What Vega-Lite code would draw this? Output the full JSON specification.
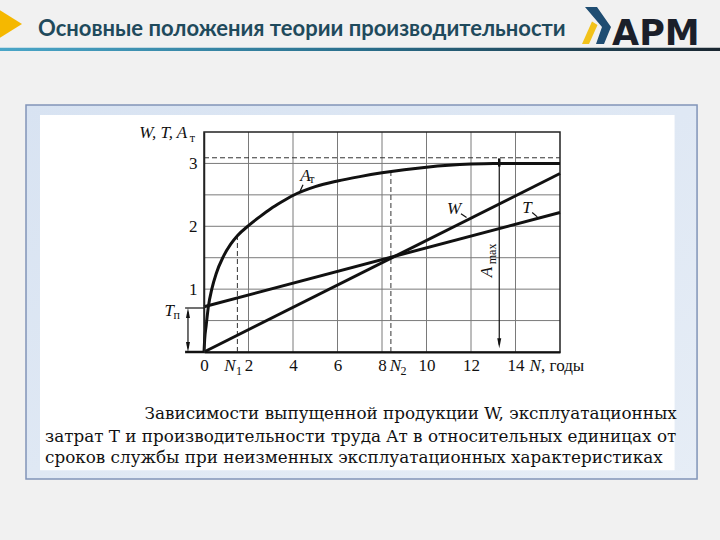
{
  "$schema": "https://vega.github.io/schema/vega-lite/v6.json",
  "width": 356,
  "height": 220,
  "autosize": {"type": "none"},
  "padding": {"left": 204, "top": 132, "right": 160, "bottom": 188},
  "background": "#f1f1f1",
  "config": {"view": {"stroke": null}},
  "datasets": {
    "frame": [
      {"part": "outer", "x": -8.0, "x2": 22.16, "y": -2.02, "y2": 3.93},
      {"part": "inner", "x": -7.37, "x2": 21.15, "y": -1.88, "y2": 3.77},
      {"part": "bar", "x": -9.2, "x2": 23.2, "y": 4.79, "y2": 4.84},
      {"part": "plot", "x": 0, "x2": 16, "y": 0, "y2": 3.5}
    ],
    "grid": [
      {"x": 2, "x2": 2, "y": 0, "y2": 3.5},
      {"x": 4, "x2": 4, "y": 0, "y2": 3.5},
      {"x": 6, "x2": 6, "y": 0, "y2": 3.5},
      {"x": 8, "x2": 8, "y": 0, "y2": 3.5},
      {"x": 10, "x2": 10, "y": 0, "y2": 3.5},
      {"x": 12, "x2": 12, "y": 0, "y2": 3.5},
      {"x": 14, "x2": 14, "y": 0, "y2": 3.5},
      {"x": 0, "x2": 16, "y": 0.5, "y2": 0.5},
      {"x": 0, "x2": 16, "y": 1, "y2": 1},
      {"x": 0, "x2": 16, "y": 1.5, "y2": 1.5},
      {"x": 0, "x2": 16, "y": 2, "y2": 2},
      {"x": 0, "x2": 16, "y": 2.5, "y2": 2.5},
      {"x": 0, "x2": 16, "y": 3, "y2": 3}
    ],
    "dashed": [
      {"x": 1.5, "x2": 1.5, "y": 0, "y2": 1.85},
      {"x": 8.4, "x2": 8.4, "y": 0, "y2": 2.86},
      {"x": 0, "x2": 16, "y": 3.09, "y2": 3.09}
    ],
    "thin": [
      {"x": 13.27, "x2": 13.27, "y": 0.12, "y2": 3.0},
      {"x": -0.72, "x2": -0.72, "y": 0.06, "y2": 0.64},
      {"x": -0.85, "x2": 0, "y": 0.7, "y2": 0.7},
      {"x": 4.45, "x2": 4.27, "y": 2.66, "y2": 2.52},
      {"x": 11.55, "x2": 11.8, "y": 2.2, "y2": 2.14},
      {"x": 14.75, "x2": 14.98, "y": 2.22, "y2": 2.15}
    ],
    "thick": [
      {"x": -0.85, "x2": 0, "y": 0, "y2": 0},
      {"x": 13.27, "x2": 13.27, "y": 2.95, "y2": 3.08}
    ],
    "arrows": [
      {"dir": "down", "x": 13.27, "y": 0.06},
      {"dir": "down", "x": -0.72, "y": 0.0},
      {"dir": "up", "x": -0.72, "y": 0.7}
    ],
    "curves": [
      {"s": "A", "x": 0, "y": 0},
      {"s": "A", "x": 0.03, "y": 0.2},
      {"s": "A", "x": 0.1, "y": 0.43},
      {"s": "A", "x": 0.2, "y": 0.73},
      {"s": "A", "x": 0.35, "y": 1.0},
      {"s": "A", "x": 0.55, "y": 1.25},
      {"s": "A", "x": 0.85, "y": 1.505},
      {"s": "A", "x": 1.2, "y": 1.715},
      {"s": "A", "x": 1.5, "y": 1.85},
      {"s": "A", "x": 2, "y": 2.01},
      {"s": "A", "x": 2.5, "y": 2.15},
      {"s": "A", "x": 3, "y": 2.28},
      {"s": "A", "x": 3.5, "y": 2.39},
      {"s": "A", "x": 4, "y": 2.49},
      {"s": "A", "x": 5, "y": 2.63},
      {"s": "A", "x": 6, "y": 2.72},
      {"s": "A", "x": 7, "y": 2.79},
      {"s": "A", "x": 8, "y": 2.85},
      {"s": "A", "x": 9, "y": 2.9},
      {"s": "A", "x": 10, "y": 2.94},
      {"s": "A", "x": 11, "y": 2.97},
      {"s": "A", "x": 12, "y": 2.99},
      {"s": "A", "x": 13, "y": 3.0},
      {"s": "A", "x": 14, "y": 3.0},
      {"s": "A", "x": 16, "y": 3.0},
      {"s": "W", "x": 0, "y": 0},
      {"s": "W", "x": 16, "y": 2.84},
      {"s": "T", "x": 0, "y": 0.72},
      {"s": "T", "x": 16, "y": 2.22}
    ],
    "italic": [
      {"x": -1.83, "y": 3.48, "text": "W, T, A"},
      {"x": -1.56, "y": 0.65, "text": "T"},
      {"x": 4.56, "y": 2.8, "text": "A"},
      {"x": 11.24, "y": 2.28, "text": "W"},
      {"x": 14.52, "y": 2.29, "text": "T"},
      {"x": 1.17, "y": -0.223, "text": "N"},
      {"x": 8.6, "y": -0.223, "text": "N"},
      {"x": 14.88, "y": -0.223, "text": "N"}
    ],
    "sub": [
      {"x": -0.52, "y": 3.41, "text": "т"},
      {"x": -1.23, "y": 0.59, "text": "п"},
      {"x": 4.85, "y": 2.75, "text": "т"},
      {"x": 1.57, "y": -0.3, "text": "1"},
      {"x": 8.97, "y": -0.3, "text": "2"}
    ],
    "roman": [
      {"x": 15.15, "y": -0.223, "text": ", годы"}
    ],
    "amax": [
      {"part": "A", "x": 12.72, "y": 1.27, "text": "A"},
      {"part": "max", "x": 12.94, "y": 1.56, "text": "max"}
    ],
    "caption": [
      {"part": "first", "x": 21.25, "y": -1.066, "text": "Зависимости выпущенной продукции W, эксплуатационных"},
      {"part": "rest", "x": -7.146, "y": -1.424, "text": "затрат T и производительности труда Aт в относительных единицах от"},
      {"part": "rest", "x": -7.146, "y": -1.766, "text": "сроков службы при неизменных эксплуатационных характеристиках"}
    ],
    "header": [
      {"part": "title", "x": -7.46, "y": 5.027, "text": "Основные положения теории производительности"},
      {"part": "logo", "x": 18.34, "y": 4.884, "text": "АРМ"}
    ],
    "marks": [
      {"part": "triangle", "x": -8.674, "y": 5.218},
      {"part": "chevron", "x": 17.708, "y": 5.186}
    ]
  },
  "encoding": {
    "x": {
      "field": "x", "type": "quantitative",
      "scale": {"domain": [0, 16], "nice": false, "zero": false},
      "axis": {
        "title": null, "values": [0, 2, 4, 6, 8, 10, 12, 14], "grid": false, "ticks": false,
        "domain": true, "domainColor": "#111111", "domainWidth": 2,
        "labelFont": "Liberation Serif", "labelFontSize": 17, "labelColor": "#111111",
        "labelPadding": 5, "labelFlush": false, "labelOverlap": false, "zindex": 1
      }
    },
    "y": {
      "field": "y", "type": "quantitative",
      "scale": {"domain": [0, 3.5], "nice": false, "zero": false},
      "axis": {
        "title": null, "values": [1, 2, 3], "grid": false, "ticks": false,
        "domain": true, "domainColor": "#222222", "domainWidth": 1.5,
        "labelFont": "Liberation Serif", "labelFontSize": 17, "labelColor": "#111111",
        "labelPadding": 7, "labelFlush": false, "zindex": 1
      }
    }
  },
  "layer": [
    {
      "data": {"name": "frame"},
      "transform": [{"filter": "datum.part == 'outer'"}],
      "mark": {"type": "rect", "stroke": "#8194b8", "strokeWidth": 1.5,
        "fill": {"gradient": "linear", "x1": 0, "y1": 0, "x2": 1, "y2": 1,
          "stops": [{"offset": 0, "color": "#d8e3f2"}, {"offset": 1, "color": "#e6edf6"}]}},
      "encoding": {"x2": {"field": "x2"}, "y2": {"field": "y2"}}
    },
    {
      "data": {"name": "frame"},
      "transform": [{"filter": "datum.part == 'inner'"}],
      "mark": {"type": "rect", "fill": "#ffffff"},
      "encoding": {"x2": {"field": "x2"}, "y2": {"field": "y2"}}
    },
    {
      "data": {"name": "frame"},
      "transform": [{"filter": "datum.part == 'bar'"}],
      "mark": {"type": "rect",
        "fill": {"gradient": "linear", "x1": 0, "y1": 0, "x2": 1, "y2": 0,
          "stops": [{"offset": 0, "color": "#4aa6c8"}, {"offset": 0.5, "color": "#2a6f8c"}, {"offset": 1, "color": "#1a2630"}]}},
      "encoding": {"x2": {"field": "x2"}, "y2": {"field": "y2"}}
    },
    {
      "data": {"name": "marks"},
      "transform": [{"filter": "datum.part == 'triangle'"}],
      "mark": {"type": "point", "shape": "M-1,-1.25L1,0L-1,1.25Z", "size": 484, "filled": true, "fill": "#f5b800", "opacity": 1, "strokeWidth": 0}
    },
    {
      "data": {"name": "marks"},
      "transform": [{"filter": "datum.part == 'chevron'"}],
      "mark": {"type": "point", "shape": "M-1.3,-1.9L-0.1,-1.9L1.3,0.1L0.6,1.8L-0.2,1.8L0.4,0.1Z", "size": 400, "filled": true, "fill": "#1f4d72", "opacity": 1, "strokeWidth": 0}
    },
    {
      "data": {"name": "marks"},
      "transform": [{"filter": "datum.part == 'chevron'"}],
      "mark": {"type": "point", "shape": "M-1.6,1.8L-0.9,1.8L-0.05,-0.1L-0.6,-0.45Z", "size": 400, "filled": true, "fill": "#f2c21a", "opacity": 1, "strokeWidth": 0}
    },
    {
      "data": {"name": "header"},
      "transform": [{"filter": "datum.part == 'title'"}],
      "mark": {"type": "text", "align": "left", "baseline": "alphabetic", "font": "Lato", "fontSize": 22, "fontWeight": "bold", "color": "#1f4a5c"},
      "encoding": {"text": {"field": "text"}}
    },
    {
      "data": {"name": "header"},
      "transform": [{"filter": "datum.part == 'logo'"}],
      "mark": {"type": "text", "align": "left", "baseline": "alphabetic", "font": "DejaVu Sans", "fontSize": 35, "fontWeight": "bold", "color": "#1b1f2a"},
      "encoding": {"text": {"field": "text"}}
    },
    {
      "data": {"name": "grid"},
      "mark": {"type": "rule", "color": "#7a7a7a", "strokeWidth": 1},
      "encoding": {"x2": {"field": "x2"}, "y2": {"field": "y2"}}
    },
    {
      "data": {"name": "frame"},
      "transform": [{"filter": "datum.part == 'plot'"}],
      "mark": {"type": "rect", "fill": null, "fillOpacity": 0, "stroke": "#222222", "strokeWidth": 1.5},
      "encoding": {"x2": {"field": "x2"}, "y2": {"field": "y2"}}
    },
    {
      "data": {"name": "dashed"},
      "mark": {"type": "rule", "color": "#333333", "strokeWidth": 1, "strokeDash": [5, 3]},
      "encoding": {"x2": {"field": "x2"}, "y2": {"field": "y2"}}
    },
    {
      "data": {"name": "thin"},
      "mark": {"type": "rule", "color": "#111111", "strokeWidth": 1.2},
      "encoding": {"x2": {"field": "x2"}, "y2": {"field": "y2"}}
    },
    {
      "data": {"name": "thick"},
      "mark": {"type": "rule", "color": "#111111", "strokeWidth": 2.5},
      "encoding": {"x2": {"field": "x2"}, "y2": {"field": "y2"}}
    },
    {
      "data": {"name": "arrows"},
      "transform": [{"filter": "datum.dir == 'down'"}],
      "mark": {"type": "point", "shape": "M-0.4,-2L0,0L0.4,-2Z", "size": 100, "filled": true, "fill": "#111111", "opacity": 1, "strokeWidth": 0}
    },
    {
      "data": {"name": "arrows"},
      "transform": [{"filter": "datum.dir == 'up'"}],
      "mark": {"type": "point", "shape": "M-0.4,2L0,0L0.4,2Z", "size": 100, "filled": true, "fill": "#111111", "opacity": 1, "strokeWidth": 0}
    },
    {
      "data": {"name": "curves"},
      "mark": {"type": "line", "color": "#111111", "strokeWidth": 3, "interpolate": "monotone"},
      "encoding": {"detail": {"field": "s"}}
    },
    {
      "data": {"name": "italic"},
      "mark": {"type": "text", "align": "center", "baseline": "middle", "font": "Liberation Serif", "fontSize": 17, "fontStyle": "italic", "color": "#111111"},
      "encoding": {"text": {"field": "text"}}
    },
    {
      "data": {"name": "sub"},
      "mark": {"type": "text", "align": "center", "baseline": "middle", "font": "Liberation Serif", "fontSize": 12, "color": "#111111"},
      "encoding": {"text": {"field": "text"}}
    },
    {
      "data": {"name": "roman"},
      "mark": {"type": "text", "align": "left", "baseline": "middle", "font": "Liberation Serif", "fontSize": 17, "color": "#111111"},
      "encoding": {"text": {"field": "text"}}
    },
    {
      "data": {"name": "amax"},
      "transform": [{"filter": "datum.part == 'A'"}],
      "mark": {"type": "text", "align": "center", "baseline": "middle", "angle": 270, "font": "Liberation Serif", "fontSize": 17, "fontStyle": "italic", "color": "#111111"},
      "encoding": {"text": {"field": "text"}}
    },
    {
      "data": {"name": "amax"},
      "transform": [{"filter": "datum.part == 'max'"}],
      "mark": {"type": "text", "align": "center", "baseline": "middle", "angle": 270, "font": "Liberation Serif", "fontSize": 12, "color": "#111111"},
      "encoding": {"text": {"field": "text"}}
    },
    {
      "data": {"name": "caption"},
      "transform": [{"filter": "datum.part == 'first'"}],
      "mark": {"type": "text", "align": "right", "baseline": "alphabetic", "font": "DejaVu Serif", "fontSize": 16.8, "color": "#111111"},
      "encoding": {"text": {"field": "text"}}
    },
    {
      "data": {"name": "caption"},
      "transform": [{"filter": "datum.part == 'rest'"}],
      "mark": {"type": "text", "align": "left", "baseline": "alphabetic", "font": "DejaVu Serif", "fontSize": 16.8, "color": "#111111"},
      "encoding": {"text": {"field": "text"}}
    }
  ]
}
